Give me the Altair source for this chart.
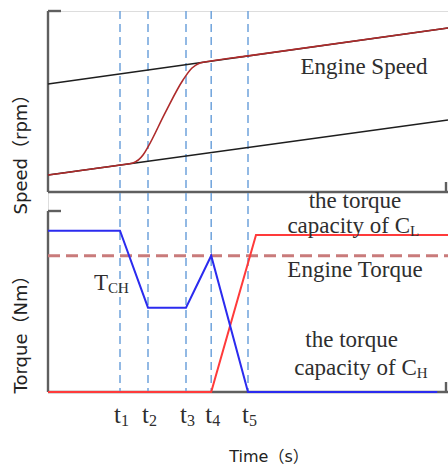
import altair as alt
import pandas as pd

# ---------------- data ----------------
# shift instants on the time axis
t_values = [1.8, 2.5, 3.45, 4.08, 5.0]
t_subs = ["1", "2", "3", "4", "5"]

# speed panel
line_time = [0, 10]
upper_speed = [59.7, 90.6]
lower_speed = [9.4, 39.8]
engine_speed_time = [0, 1.8, 2.125, 2.375, 2.5, 2.925, 3.375, 3.6, 3.8, 4.075, 5.0, 10]
engine_speed = [9.4, 14.9, 16.0, 20.4, 24.9, 43.6, 61.9, 68.5, 71.3, 72.4, 75.2, 90.6]

# torque panel
ch_time = [0, 1.8, 2.5, 3.45, 4.08, 5.0, 9.73]
ch_torque = [89.1, 89.1, 46.6, 46.6, 75.3, 0, 0]
cl_time = [0, 4.08, 5.2, 10]
cl_torque = [0, 0, 86.7, 86.7]
engine_torque_time = [0, 10]
engine_torque = [75.3, 75.3]

# annotations (data coordinates)
speed_notes = ["Engine Speed"]
speed_notes_x = [7.9]
speed_notes_y = [65.2]

torque_center_notes = ["the torque", "Engine Torque", "the torque"]
torque_center_x = [7.675, 7.675, 7.59]
torque_center_y = [101.7, 63.5, 24.9]

torque_sub_main = ["capacity of C", "capacity of C", "T"]
torque_sub_text = ["L", "H", "CH"]
torque_sub_x = [9.05, 9.22, 1.5]
torque_sub_y = [87.8, 9.4, 56.4]

# ---------------- styling ----------------
SERIF = "Liberation Serif"
SANS = "DejaVu Sans, Noto Sans CJK SC"
TXT = "#2e2e2e"
AX = "#5f5f5f"
W, H = 400, 381

x_scale = alt.Scale(domain=[0, 10], nice=False, zero=False)
ys_top = alt.Scale(domain=[-110.5, 100], nice=False, zero=False)
ys_bot = alt.Scale(domain=[0, 210.5], nice=False, zero=False)


def X(field):
    return alt.X(field, type="quantitative", scale=x_scale, axis=None)


def YT(field):
    return alt.Y(field, type="quantitative", scale=ys_top, axis=None)


def YB(field):
    return alt.Y(field, type="quantitative", scale=ys_bot, axis=None)


dummy = pd.DataFrame({"d": [0]})

# axis frame rules (layout decoration)
frame_specs = [
    dict(x=0, y=0, y2=181),
    dict(x=0, x2=13, y=0),
    dict(x=0, x2=400, y=181),
    dict(x=398, y=171, y2=181),
    dict(x=0, y=200, y2=381),
    dict(x=0, x2=13, y=200),
    dict(x=0, x2=400, y=381),
    dict(x=398, y=371, y2=381),
]
frame_layers = []
for s in frame_specs:
    enc = {k: alt.value(v) for k, v in s.items()}
    frame_layers.append(
        alt.Chart(dummy).mark_rule(color=AX, strokeWidth=2.4).encode(**enc)
    )

t_df = pd.DataFrame({"time": t_values, "sub": t_subs})
vlines = alt.Chart(t_df).mark_rule(
    color="#6fa3dc", strokeWidth=1.5, strokeDash=[8, 5]
).encode(x=X("time"), y=alt.value(0), y2=alt.value(381))

# ---- speed panel ----
speed_df = pd.DataFrame({
    "time": line_time + line_time,
    "value": upper_speed + lower_speed,
    "series": ["upper"] * 2 + ["lower"] * 2,
})
black = alt.Chart(speed_df).mark_line(color="#1e1e1e", strokeWidth=1.5).encode(
    x=X("time"), y=YT("value"), detail="series:N"
)
red_speed = alt.Chart(pd.DataFrame({"time": engine_speed_time, "value": engine_speed})).mark_line(
    color="#ae2b2b", strokeWidth=1.6, interpolate="monotone"
).encode(x=X("time"), y=YT("value"))
speed_text = alt.Chart(pd.DataFrame({"x": speed_notes_x, "y": speed_notes_y, "t": speed_notes})).mark_text(
    font=SERIF, fontSize=23, color=TXT, align="center", baseline="alphabetic"
).encode(x=X("x"), y=YT("y"), text="t:N")
top = alt.layer(black, red_speed, speed_text)

# ---- torque panel ----
eng_t = alt.Chart(pd.DataFrame({"time": engine_torque_time, "value": engine_torque})).mark_line(
    color="#c97b7b", strokeWidth=3, strokeDash=[12, 6]
).encode(x=X("time"), y=YB("value"))
red_cl = alt.Chart(pd.DataFrame({"time": cl_time, "value": cl_torque})).mark_line(
    color="#ff3a3a", strokeWidth=2
).encode(x=X("time"), y=YB("value"))
blue_ch = alt.Chart(pd.DataFrame({"time": ch_time, "value": ch_torque})).mark_line(
    color="#2b2bef", strokeWidth=2
).encode(x=X("time"), y=YB("value"))
center_df = pd.DataFrame({"x": torque_center_x, "y": torque_center_y, "t": torque_center_notes})
center_text = alt.Chart(center_df).mark_text(
    font=SERIF, fontSize=23, color=TXT, align="center", baseline="alphabetic"
).encode(x=X("x"), y=YB("y"), text="t:N")
sub_df = pd.DataFrame({"x": torque_sub_x, "y": torque_sub_y, "m": torque_sub_main, "s": torque_sub_text})
sub_main = alt.Chart(sub_df).mark_text(
    font=SERIF, fontSize=23, color=TXT, align="right", baseline="alphabetic"
).encode(x=X("x"), y=YB("y"), text="m:N")
sub_small = alt.Chart(sub_df).mark_text(
    font=SERIF, fontSize=15, color=TXT, align="left", baseline="alphabetic", dx=0, dy=3
).encode(x=X("x"), y=YB("y"), text="s:N")
bottom = alt.layer(eng_t, red_cl, blue_ch, center_text, sub_main, sub_small)

# ---- tick labels & titles ----
t_main = alt.Chart(t_df).mark_text(
    font=SERIF, fontSize=25, color=TXT, align="right", baseline="alphabetic", dx=1
).encode(x=X("time"), y=alt.value(412), text=alt.value("t"))
t_sub = alt.Chart(t_df).mark_text(
    font=SERIF, fontSize=16, color=TXT, align="left", baseline="alphabetic", dx=1
).encode(x=X("time"), y=alt.value(415), text="sub:N")

title_speed = alt.Chart(dummy).mark_text(
    font=SANS, fontSize=18, color="#222222", angle=270, align="center", baseline="middle"
).encode(x=alt.value(-26), y=alt.value(139), text=alt.value("Speed（rpm）"))
title_torque = alt.Chart(dummy).mark_text(
    font=SANS, fontSize=18, color="#222222", angle=270, align="center", baseline="middle"
).encode(x=alt.value(-26), y=alt.value(319), text=alt.value("Torque（Nm）"))
title_time = alt.Chart(dummy).mark_text(
    font=SANS, fontSize=16, color="#222222", align="center", baseline="alphabetic"
).encode(x=alt.value(221), y=alt.value(451), text=alt.value("Time（s）"))

chart = alt.layer(
    *frame_layers, vlines, top, bottom, t_main, t_sub, title_speed, title_torque, title_time
).resolve_scale(y="independent").properties(
    width=W, height=H,
    autosize=alt.AutoSizeParams(type="none"),
    padding={"left": 48, "top": 11, "right": 0, "bottom": 78},
).configure_view(stroke=None).configure(background="white")

chart.save("out.html", embed_options={"renderer": "svg", "actions": False})
